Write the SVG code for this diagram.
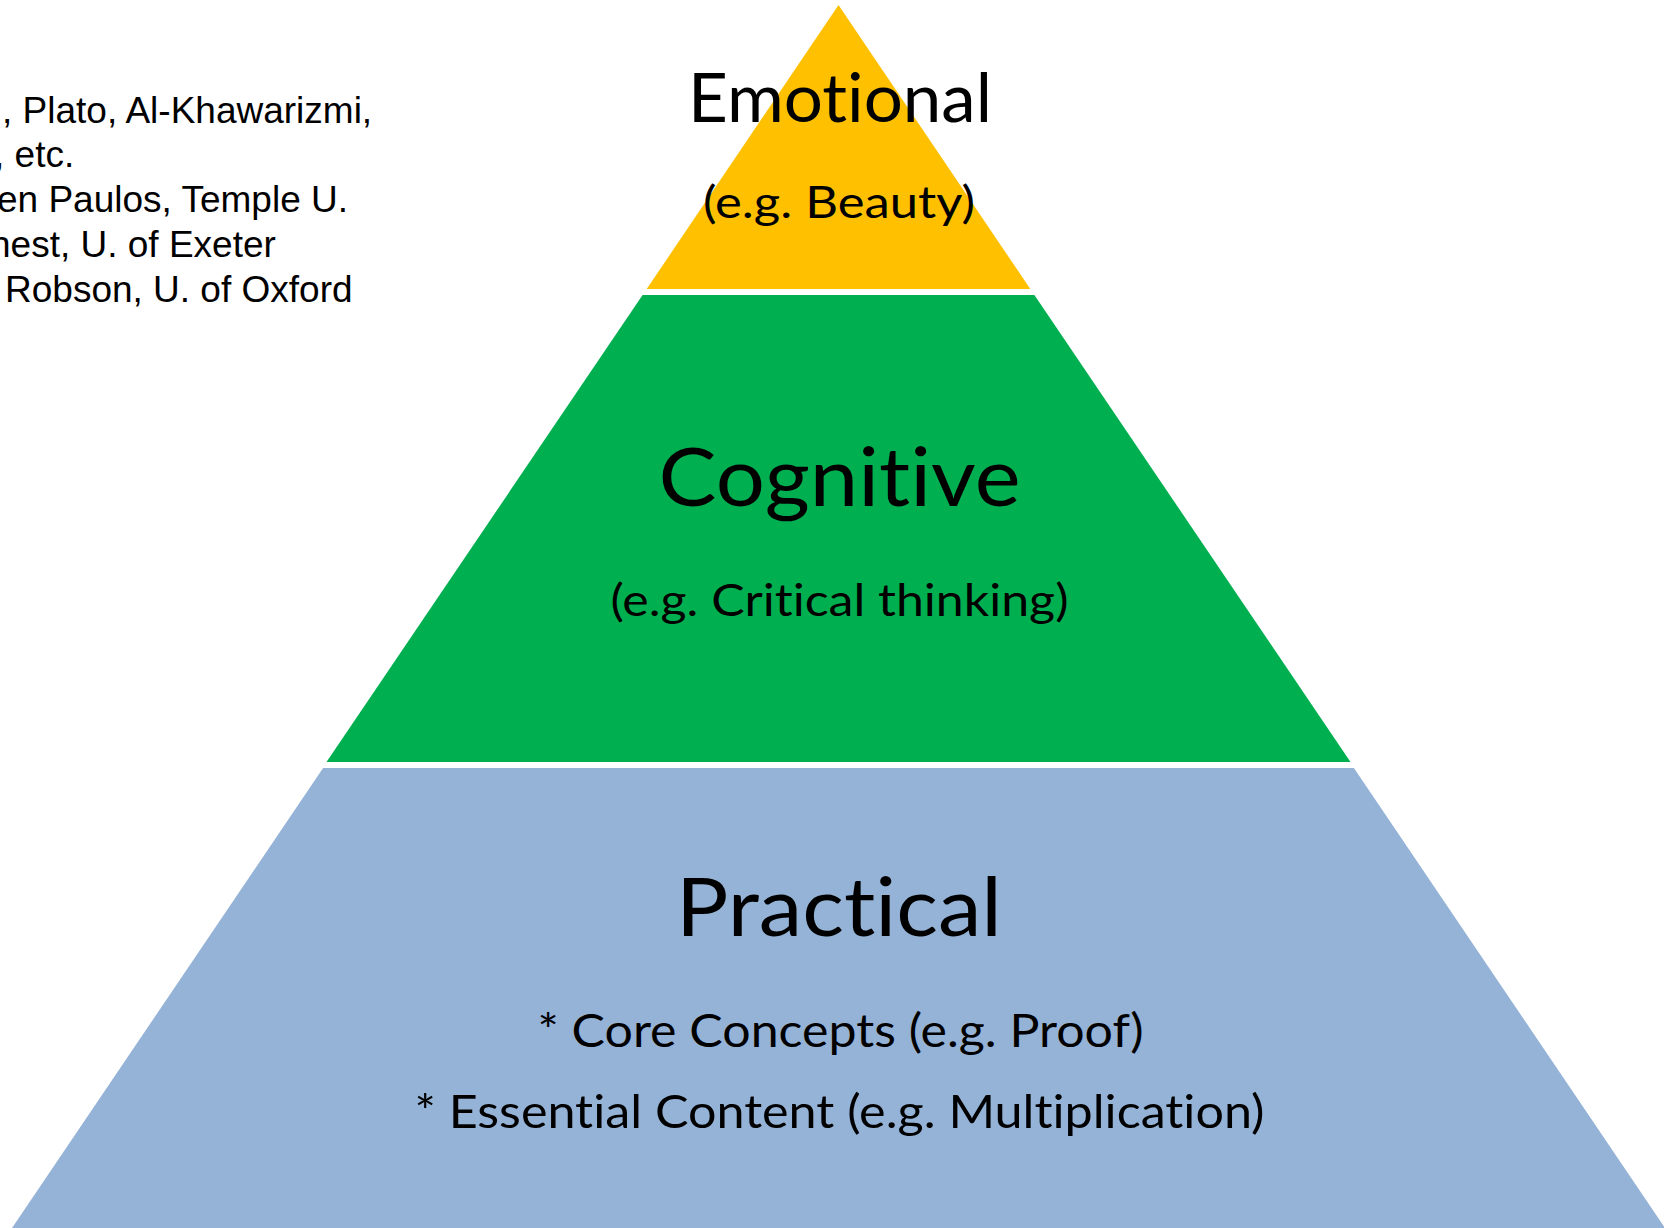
<svg xmlns="http://www.w3.org/2000/svg" width="1664" height="1228" viewBox="0 0 1664 1228">
  <style>
    .side { font-family: "Liberation Sans", Arial, sans-serif; font-size: 37px; fill: #000; }
    .lbl { font-family: Lato, "Open Sans", sans-serif; fill: #000; text-anchor: middle;
           font-variant-ligatures: none; font-feature-settings: "liga" 0, "clig" 0; }
    .title { font-size: 82px; }
    .top-title { font-size: 68px; }
    .sub { font-size: 44px; }
    .item { font-size: 46px; }
  </style>
  <rect width="1664" height="1228" fill="#FFFFFF"/>

  <!-- side note: list of names, left-aligned, running off the left edge -->
  <g id="names">
    <text class="side" x="2" y="123">, Plato, Al-Khawarizmi,</text>
    <text class="side" x="-6" y="167">, etc.</text>
    <text class="side" x="-3" y="212">en Paulos, Temple U.</text>
    <text class="side" x="-10" y="257">nest, U. of Exeter</text>
    <text class="side" x="5" y="302">Robson, U. of Oxford</text>
  </g>

  <!-- pyramid: apex tier -->
  <g id="emotional">
    <polygon points="838.5,5 1030.3,289 646.7,289" fill="#FFC000"/>
    <text class="lbl top-title" x="840" y="122" textLength="304" lengthAdjust="spacingAndGlyphs">Emotional</text>
    <text class="lbl sub" x="839" y="218" textLength="272" lengthAdjust="spacingAndGlyphs">(e.g. Beauty)</text>
  </g>

  <!-- pyramid: middle tier -->
  <g id="cognitive">
    <polygon points="642.6,295 1034.4,295 1350.5,762 326.5,762" fill="#00B050"/>
    <text class="lbl title" x="839.5" y="506" textLength="362" lengthAdjust="spacingAndGlyphs">Cognitive</text>
    <text class="lbl sub" x="839.5" y="616" textLength="458" lengthAdjust="spacingAndGlyphs">(e.g. Critical thinking)</text>
  </g>

  <!-- pyramid: base tier -->
  <g id="practical">
    <polygon points="323.1,768 1353.9,768 1665,1228 12,1228" fill="#95B3D7"/>
    <text class="lbl title" x="839" y="936" textLength="326" lengthAdjust="spacingAndGlyphs">Practical</text>
    <text class="lbl item" x="840.5" y="1047" textLength="606" lengthAdjust="spacingAndGlyphs">* Core Concepts (e.g. Proof)</text>
    <text class="lbl item" x="839.5" y="1128" textLength="850" lengthAdjust="spacingAndGlyphs">* Essential Content (e.g. Multiplication)</text>
  </g>
</svg>
